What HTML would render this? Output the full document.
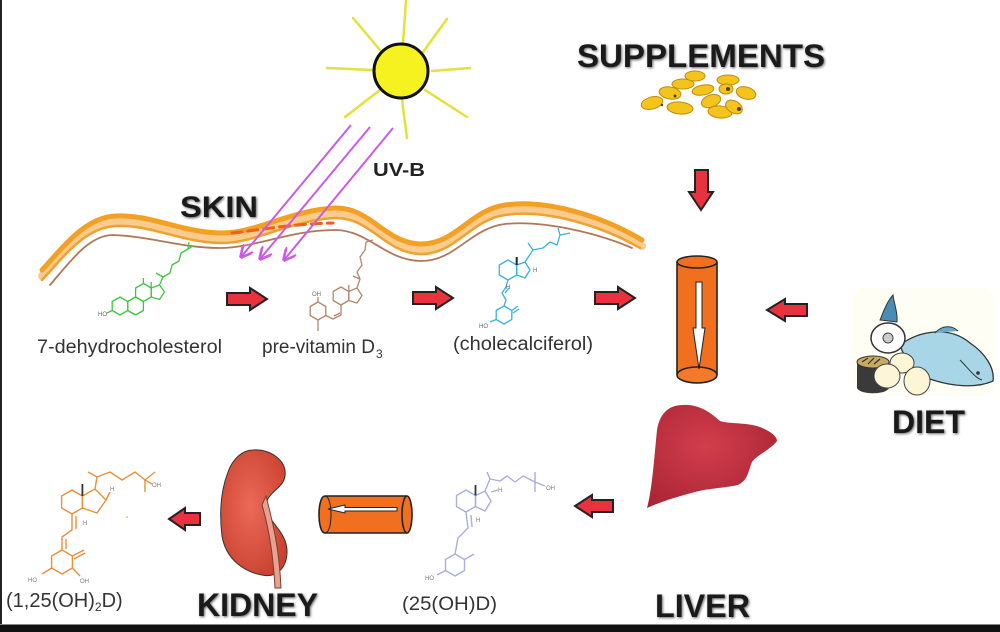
<!DOCTYPE html>
<html><head><meta charset="utf-8"><style>
html,body{margin:0;padding:0;background:#fff;}
svg{display:block;}
text{font-family:"Liberation Sans",Arial,sans-serif;}
</style></head><body>
<svg width="1000" height="632" viewBox="0 0 1000 632" xmlns="http://www.w3.org/2000/svg">
<defs>
<marker id="uv" viewBox="0 0 10 10" refX="9" refY="5" markerUnits="userSpaceOnUse" markerWidth="13" markerHeight="13" orient="auto">
<path d="M0,0 L10,5 L0,10" fill="none" stroke="#cc5ae8" stroke-width="2"/>
</marker>
<filter id="sh" x="-10%" y="-30%" width="120%" height="160%"><feGaussianBlur stdDeviation="1.3"/></filter>
<radialGradient id="liv" cx="0.45" cy="0.4" r="0.7"><stop offset="0" stop-color="#d23e4c"/><stop offset="1" stop-color="#a82434"/></radialGradient>
<radialGradient id="kid" cx="0.45" cy="0.45" r="0.65"><stop offset="0" stop-color="#ec6a58"/><stop offset="1" stop-color="#c8402e"/></radialGradient>
</defs>
<rect width="1000" height="632" fill="#fff"/>

<!-- Sun -->
<g stroke="#e2e23a" stroke-width="2.5" stroke-linecap="round">
<line x1="406" y1="1" x2="403" y2="42"/>
<line x1="353" y1="18" x2="380" y2="50"/>
<line x1="327" y1="68" x2="372" y2="70"/>
<line x1="345" y1="117" x2="380" y2="90"/>
<line x1="407" y1="138" x2="402" y2="100"/>
<line x1="467" y1="117" x2="425" y2="90"/>
<line x1="470" y1="68" x2="432" y2="71"/>
<line x1="447" y1="19" x2="423" y2="52"/>
</g>
<circle cx="401" cy="71" r="27" fill="#f6f220" stroke="#111" stroke-width="3"/>

<!-- Skin -->
<g fill="none" stroke-linecap="round" stroke-linejoin="round">
<path d="M50,285 C70,262 88,236 112,235 C150,236 180,248 220,248 C255,248 290,230 335,230 C368,230 385,260 420,261 C455,262 470,228 505,224 C545,220 600,234 632,248" stroke="#b07858" stroke-width="1.8"/>
<path transform="translate(0,6)" d="M42,270 C65,245 85,218 115,216 C150,214 180,232 220,233 C255,234 290,210 335,208 C370,207 385,243 420,244 C455,245 470,210 505,205 C545,199 600,215 642,240" stroke="#f9cc8e" stroke-width="8"/>
<path transform="translate(0,10)" d="M42,270 C65,245 85,218 115,216 C150,214 180,232 220,233 C255,234 290,210 335,208 C370,207 385,243 420,244 C455,245 470,210 505,205 C545,199 600,215 640,238" stroke="#f2a030" stroke-width="2.5"/>
<path d="M42,270 C65,245 85,218 115,216 C150,214 180,232 220,233 C255,234 290,210 335,208 C370,207 385,243 420,244 C455,245 470,210 505,205 C545,199 600,215 642,240" stroke="#f4a024" stroke-width="5"/>
<path d="M232,233 C260,230 290,224 333,223" stroke="#f06018" stroke-width="3" stroke-dasharray="10,6"/>
</g>

<!-- UV-B rays -->
<g stroke="#cc5ae8" stroke-width="2" marker-end="url(#uv)">
<line x1="351" y1="125" x2="241" y2="257"/>
<line x1="370" y1="127" x2="260" y2="259"/>
<line x1="393" y1="128" x2="284" y2="260"/>
</g>

<!-- Titles (shadow) -->
<g fill="#666" filter="url(#sh)" font-weight="bold" transform="translate(1,1)">
<text x="180" y="217" font-size="30" textLength="78" lengthAdjust="spacingAndGlyphs">SKIN</text>
<text x="577" y="67" font-size="32" textLength="248" lengthAdjust="spacingAndGlyphs">SUPPLEMENTS</text>
<text x="892" y="433" font-size="32" textLength="73" lengthAdjust="spacingAndGlyphs">DIET</text>
<text x="655" y="617" font-size="32" textLength="95" lengthAdjust="spacingAndGlyphs">LIVER</text>
<text x="197" y="616" font-size="32" textLength="121" lengthAdjust="spacingAndGlyphs">KIDNEY</text>
</g>
<g fill="#1a1a1a" font-weight="bold">
<text x="180" y="217" font-size="30" textLength="78" lengthAdjust="spacingAndGlyphs">SKIN</text>
<text x="577" y="67" font-size="32" textLength="248" lengthAdjust="spacingAndGlyphs">SUPPLEMENTS</text>
<text x="892" y="433" font-size="32" textLength="73" lengthAdjust="spacingAndGlyphs">DIET</text>
<text x="655" y="617" font-size="32" textLength="95" lengthAdjust="spacingAndGlyphs">LIVER</text>
<text x="197" y="616" font-size="32" textLength="121" lengthAdjust="spacingAndGlyphs">KIDNEY</text>
<text x="373" y="176" font-size="18" textLength="52" lengthAdjust="spacingAndGlyphs" fill="#222">UV-B</text>
</g>

<!-- Labels -->
<g fill="#333" font-size="19">
<text x="37" y="353" textLength="185" lengthAdjust="spacingAndGlyphs">7-dehydrocholesterol</text>
<text x="262" y="353" textLength="113" lengthAdjust="spacingAndGlyphs">pre-vitamin D</text>
<text x="376" y="358" font-size="12">3</text>
<text x="453" y="350" textLength="140" lengthAdjust="spacingAndGlyphs">(cholecalciferol)</text>
<text x="402" y="610" textLength="95" lengthAdjust="spacingAndGlyphs">(25(OH)D)</text>
<text x="6" y="607" font-size="20">(1,25(OH)<tspan font-size="12" dy="4">2</tspan><tspan dy="-4">D)</tspan></text>
</g>

<!-- Red block arrows -->
<g fill="#e8323e" stroke="#222" stroke-width="2" stroke-linejoin="miter">
<polygon points="227,293 250,293 250,288 267,299 250,310 250,305 227,305"/>
<polygon points="413,292 436,292 436,287 453,298 436,309 436,304 413,304"/>
<polygon points="595,292 618,292 618,287 635,298 618,309 618,304 595,304"/>
<polygon points="695,170 708,170 708,192 713,192 701,210 689,192 695,192"/>
<polygon points="807,304 785,304 785,299 767,310 785,321 785,316 807,316"/>
<polygon points="613,500 592,500 592,495 575,506 592,517 592,512 613,512"/>
<polygon points="200,513 185,513 185,508 169,519 185,530 185,525 200,525"/>
</g>

<!-- Vertical cylinder -->
<g stroke="#222" stroke-width="1.6">
<rect x="677" y="262" width="40" height="113" fill="#f07020" stroke="none"/>
<line x1="677" y1="262" x2="677" y2="375"/>
<line x1="717" y1="262" x2="717" y2="375"/>
<ellipse cx="697" cy="375" rx="20" ry="8" fill="#f27a2a"/>
<ellipse cx="697" cy="262" rx="20" ry="6" fill="#f07020"/>
<polygon points="696,282 702,282 702,328 705,328 699,369 693,328 696,328" fill="#fff" stroke-width="1"/>
</g>

<!-- Horizontal cylinder -->
<g stroke="#222" stroke-width="1.6">
<rect x="325" y="496" width="82" height="37" fill="#f07020" stroke="none"/>
<path d="M325,496 C317,496 317,533 325,533" fill="#f07020"/>
<line x1="325" y1="496" x2="407" y2="496"/>
<line x1="325" y1="533" x2="407" y2="533"/>
<path d="M325,496 C333,496 333,533 325,533" fill="none" stroke-width="1"/>
<ellipse cx="407" cy="514.5" rx="5" ry="18.5" fill="#f07020"/>
<polygon points="328,509 345,505 345,507.5 397,507.5 397,511 345,511 345,513" fill="#fff" stroke-width="1"/>
</g>

<!-- Supplement pills -->
<g fill="#f3c41c" stroke="#c08a10" stroke-width="1">
<ellipse cx="652" cy="103" rx="11" ry="6" transform="rotate(-15 652 103)"/>
<ellipse cx="680" cy="108" rx="13" ry="6" transform="rotate(5 680 108)"/>
<ellipse cx="670" cy="93" rx="11" ry="6" transform="rotate(10 670 93)"/>
<ellipse cx="683" cy="84" rx="11" ry="5"/>
<ellipse cx="695" cy="76" rx="10" ry="5"/>
<ellipse cx="703" cy="90" rx="11" ry="5" transform="rotate(-10 703 90)"/>
<ellipse cx="711" cy="101" rx="10" ry="6" transform="rotate(-20 711 101)"/>
<ellipse cx="720" cy="112" rx="12" ry="6" transform="rotate(5 720 112)"/>
<ellipse cx="728" cy="80" rx="11" ry="5"/>
<ellipse cx="726" cy="89" rx="7" ry="5"/>
<ellipse cx="734" cy="107" rx="9" ry="6" transform="rotate(30 734 107)"/>
<ellipse cx="746" cy="93" rx="10" ry="6" transform="rotate(15 746 93)"/>
</g>
<g fill="#5a3a10"><circle cx="728" cy="89" r="2"/><circle cx="739" cy="109" r="2"/><circle cx="662" cy="105" r="1.2"/><circle cx="675" cy="96" r="1.5"/></g>

<!-- Liver -->
<path d="M647,508 C652,490 654,460 657,430 C660,412 670,405 683,405 C700,404 712,414 720,421 C728,424 745,422 760,427 C770,431 777,436 777,441 C770,450 757,455 752,462 C748,472 748,480 738,485 C725,488 710,488 695,492 C680,496 665,500 647,508 Z" fill="url(#liv)"/>

<!-- Kidney -->
<path d="M253,450 C270,449 287,460 285,476 C283,489 268,491 266,505 C264,520 288,530 287,553 C286,570 275,578 262,575 C245,572 226,560 222,536 C219,511 221,490 228,472 C233,458 243,450 253,450 Z" fill="url(#kid)" stroke="#333" stroke-width="1"/>
<path d="M266,496 C272,520 279,545 281,588 L275,588 C273,550 268,525 262,505 Z" fill="#e8a090" stroke="#7a4030" stroke-width="1"/>

<!-- Diet illustration -->
<rect x="852" y="288" width="144" height="108" rx="14" fill="#fffef5"/>
<path d="M857,362 L857,388 C860,395 886,395 889,388 L889,362 Z" fill="#3a3a3a"/>
<ellipse cx="873" cy="362" rx="16" ry="6" fill="#c8aa60" stroke="#333"/>
<path d="M862,362 L868,358 M868,364 L874,358 M874,364 L880,359" stroke="#333" stroke-width="1.2"/>
<path d="M900,345 C920,330 950,326 970,343 C985,353 995,368 993,381 C975,389 950,386 930,379 C915,373 905,360 900,345 Z" fill="#a8d6e6" stroke="#333" stroke-width="1.3"/>
<path d="M935,333 C942,325 952,325 958,331" fill="#6aa8c8" stroke="#333"/>
<path d="M960,360 C968,368 975,378 982,380" fill="none" stroke="#333"/>
<circle cx="978" cy="373" r="1.8" fill="#333"/>
<ellipse cx="902" cy="363" rx="12" ry="10" fill="#fdf6d6" stroke="#444"/>
<ellipse cx="887" cy="376" rx="13" ry="12" fill="#fdf6d6" stroke="#444"/>
<ellipse cx="917" cy="381" rx="13" ry="14" fill="#fdf6d6" stroke="#444"/>
<path d="M880,320 C884,310 888,300 893,295 C894,304 898,312 897,322 Z" fill="#4a8cb6" stroke="#333"/>
<ellipse cx="888" cy="338" rx="17" ry="15" fill="#fff" stroke="#333" stroke-width="1.5"/>
<circle cx="888" cy="338" r="5" fill="#ccc" stroke="#444"/>

<!-- Molecule: 7-dehydrocholesterol (green) -->
<g fill="none" stroke="#3cc83c" stroke-width="1.3" stroke-linejoin="round">
<polygon points="120,297 127.8,301.5 127.8,310.5 120,315 112.2,310.5 112.2,301.5"/>
<polygon points="135.6,297 143.4,301.5 143.4,310.5 135.6,315 127.8,310.5 127.8,301.5"/>
<polygon points="143.4,283.5 151.2,288 151.2,297 143.4,301.5 135.6,297 135.6,288"/>
<polygon points="151.2,288 159.5,285 164.5,292 159.5,299.5 151.2,297"/>
<polyline points="159.5,285 163,277 170,273 172,265 179,261 181,253 188,249 193,246"/>
<line x1="163" y1="277" x2="156" y2="273"/>
<line x1="188" y1="249" x2="189" y2="242"/>
<line x1="143.4" y1="283.5" x2="143.4" y2="278"/>
<line x1="151.2" y1="288" x2="151.2" y2="282"/>
<line x1="130" y1="312" x2="134" y2="314"/>
<line x1="112.2" y1="310.5" x2="107" y2="313"/>
</g>
<text x="98" y="316" font-size="6" fill="#666">HO</text>

<!-- Molecule: pre-vitamin D3 (brown) -->
<g fill="none" stroke="#b5866a" stroke-width="1.3" stroke-linejoin="round">
<polygon points="318,302 325.8,306.5 325.8,315.5 318,320 310.2,315.5 310.2,306.5"/>
<line x1="318" y1="302" x2="318" y2="297"/>
<line x1="318" y1="320" x2="318" y2="331"/>
<polyline points="325.8,315.5 333,319 341,315 341,305"/>
<line x1="334" y1="316" x2="340" y2="313"/>
<polygon points="341,287 348.8,291.5 348.8,300.5 341,305 333.2,300.5 333.2,291.5"/>
<polygon points="348.8,291.5 357,288 362,295.5 357,303 348.8,300.5"/>
<polyline points="357,288 360,279 357,272 362,265 360,257 365,250 366,242"/>
<line x1="360" y1="279" x2="353" y2="276"/>
<line x1="366" y1="242" x2="373" y2="240"/>
<line x1="348.8" y1="291.5" x2="348.8" y2="285"/>
</g>
<text x="312" y="296" font-size="6" fill="#666">OH</text>

<!-- Molecule: cholecalciferol (cyan) -->
<g fill="none" stroke="#3ab0e0" stroke-width="1.3" stroke-linejoin="round">
<polygon points="508,260 516.7,265 516.7,275 508,280 499.3,275 499.3,265"/>
<polygon points="516.7,265 525,262 530,270 525,278 516.7,275"/>
<polyline points="525,262 533,250 528,243"/>
<polyline points="533,250 543,248 550,242 557,245 560,235 558,228"/>
<line x1="560" y1="235" x2="570" y2="233"/>
<polyline points="508,280 506,287 502,293 506,300 504,306"/>
<line x1="509" y1="288" x2="505" y2="293"/>
<polygon points="504,306 511.8,310.5 511.8,319.5 504,324 496.2,319.5 496.2,310.5"/>
<line x1="511.8" y1="310.5" x2="518" y2="306"/>
<line x1="513" y1="313" x2="519" y2="309"/>
<line x1="496.2" y1="319.5" x2="490" y2="322"/>
</g>
<line x1="516.7" y1="265" x2="516.7" y2="257" stroke="#222" stroke-width="2"/>
<text x="479" y="328" font-size="6" fill="#666">HO</text>
<text x="533" y="272" font-size="6" fill="#666">H</text>
<text x="506" y="289" font-size="6" fill="#666">H</text>

<!-- Molecule: 25(OH)D (lavender) -->
<g fill="none" stroke="#a8aee0" stroke-width="1.4" stroke-linejoin="round">
<polygon points="466,490 475.5,495.5 475.5,506.5 466,512 456.5,506.5 456.5,495.5"/>
<polygon points="475.5,495.5 485,491 491,501 485,511 475.5,506.5"/>
<polyline points="485,491 490,479 487,472"/>
<polyline points="490,479 500,481 507,476 515,482 523,476 535,482"/>
<line x1="535" y1="482" x2="535" y2="472"/>
<line x1="535" y1="482" x2="535" y2="492"/>
<line x1="535" y1="482" x2="545" y2="486"/>
<polyline points="466,512 468,528 458,538 455,554"/>
<line x1="471" y1="515" x2="472" y2="527"/>
<polygon points="455,554 464.5,559.5 464.5,570.5 455,576 445.5,570.5 445.5,559.5"/>
<line x1="464.5" y1="559.5" x2="474" y2="554"/>
<line x1="445.5" y1="570.5" x2="437" y2="575"/>
<line x1="491" y1="492" x2="498" y2="490"/>
</g>
<line x1="475.5" y1="495.5" x2="475.5" y2="485" stroke="#333" stroke-width="1.8"/>
<text x="546" y="490" font-size="6" fill="#777">OH</text>
<text x="498" y="492" font-size="6" fill="#777">H</text>
<text x="476" y="522" font-size="6" fill="#777">H</text>
<text x="425" y="580" font-size="6" fill="#777">HO</text>

<!-- Molecule: 1,25(OH)2D (orange) -->
<g fill="none" stroke="#e8903c" stroke-width="1.4" stroke-linejoin="round">
<polygon points="72,490 82.4,496 82.4,508 72,514 61.6,508 61.6,496"/>
<polygon points="82.4,496 95,489 106,500 97,513 82.4,508"/>
<polyline points="95,489 97,477 88,472"/>
<polyline points="97,477 110,472 122,480 135,472 145,480"/>
<line x1="145" y1="480" x2="145" y2="492"/>
<line x1="145" y1="480" x2="155" y2="472"/>
<line x1="145" y1="480" x2="152" y2="484"/>
<polyline points="72,514 72,530 62,537 62,550"/>
<line x1="76" y1="516" x2="76" y2="529"/>
<line x1="66" y1="539" x2="66" y2="549"/>
<polygon points="62,550 72.4,556 72.4,568 62,574 51.6,568 51.6,556"/>
<line x1="72.4" y1="556" x2="84" y2="550"/>
<line x1="74" y1="559" x2="85" y2="553"/>
<line x1="72.4" y1="568" x2="80" y2="576"/>
<line x1="51.6" y1="568" x2="42" y2="574"/>
<line x1="106" y1="500" x2="110" y2="492"/>
</g>
<line x1="82.4" y1="496" x2="82.4" y2="484" stroke="#333" stroke-width="1.8"/>
<circle cx="127" cy="517" r="0.8" fill="#e8903c"/>
<text x="152" y="487" font-size="6" fill="#777">OH</text>
<text x="110" y="491" font-size="6" fill="#777">H</text>
<text x="83" y="525" font-size="6" fill="#777">H</text>
<text x="28" y="582" font-size="6" fill="#777">HO</text>
<text x="80" y="583" font-size="6" fill="#777">OH</text>

<!-- Borders -->
<rect x="0" y="0" width="2" height="632" fill="#222"/>
<rect x="0" y="624" width="1000" height="1" fill="#888"/>
<rect x="0" y="625" width="1000" height="7" fill="#111"/>
</svg>
</body></html>
